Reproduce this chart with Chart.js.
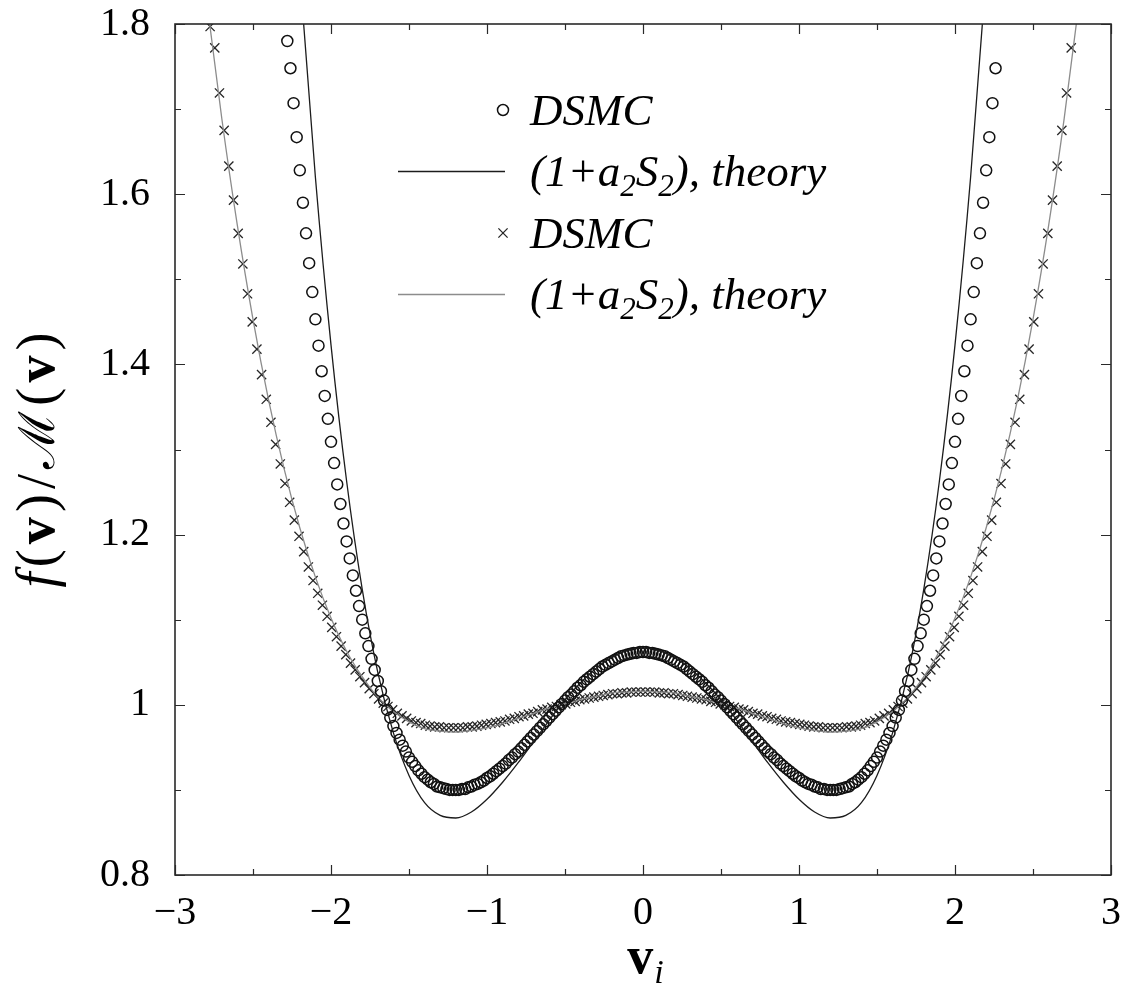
<!DOCTYPE html>
<html>
<head>
<meta charset="utf-8">
<script src="https://cdn.jsdelivr.net/npm/chart.js@4.4.1/dist/chart.umd.min.js"></script>
<style>
  html, body { margin: 0; padding: 0; background: #fff; }
  #wrap { width: 1122px; height: 1001px; }
</style>
</head>
<body>
<div id="wrap"><canvas id="chart" width="1122" height="1001"></canvas></div>
<script>
// DSMC histogram bins (circles: step 0.02, crosses: step 0.03)
const circleFirstV = -2.28
const circleStepV = 0.02
const circleValues = [
  1.780,1.748,1.707,1.667,1.628,1.590,1.554,1.519,1.485,1.453,
  1.422,1.392,1.363,1.336,1.309,1.284,1.259,1.236,1.213,1.192,
  1.172,1.152,1.134,1.116,1.100,1.084,1.069,1.054,1.041,1.028,
  1.016,1.005,0.994,0.985,0.975,0.967,0.959,0.952,0.945,0.938,
  0.933,0.928,0.923,0.919,0.915,0.912,0.909,0.907,0.904,0.903,
  0.902,0.901,0.900,0.900,0.900,0.900,0.901,0.901,0.903,0.904,
  0.906,0.907,0.909,0.911,0.914,0.916,0.919,0.922,0.925,0.928,
  0.931,0.935,0.938,0.942,0.945,0.949,0.953,0.957,0.961,0.965,
  0.969,0.973,0.977,0.981,0.985,0.989,0.993,0.997,1.001,1.005,
  1.009,1.012,1.016,1.020,1.023,1.027,1.030,1.033,1.036,1.039,
  1.042,1.045,1.047,1.049,1.051,1.053,1.055,1.057,1.058,1.059,
  1.060,1.061,1.061,1.062,
  1.062,1.062,1.061,1.061,1.060,1.059,1.058,1.057,1.055,1.053,
  1.051,1.049,1.047,1.045,1.042,1.039,1.036,1.033,1.030,1.027,
  1.023,1.020,1.016,1.012,1.009,1.005,1.001,0.997,0.993,0.989,
  0.985,0.981,0.977,0.973,0.969,0.965,0.961,0.957,0.953,0.949,
  0.945,0.942,0.938,0.935,0.931,0.928,0.925,0.922,0.919,0.916,
  0.914,0.911,0.909,0.907,0.906,0.904,0.903,0.901,0.901,0.900,
  0.900,0.900,0.900,0.901,0.902,0.903,0.904,0.907,0.909,0.912,
  0.915,0.919,0.923,0.928,0.933,0.938,0.945,0.952,0.959,0.967,
  0.975,0.985,0.994,1.005,1.016,1.028,1.041,1.054,1.069,1.084,
  1.100,1.116,1.134,1.152,1.172,1.192,1.213,1.236,1.259,1.284,
  1.309,1.336,1.363,1.392,1.422,1.453,1.485,1.519,1.554,1.590,
  1.628,1.667,1.707,1.748
]

const crossFirstV = -2.775
const crossStepV = 0.03
const crossValues = [
  1.797,1.772,1.719,1.675,1.633,1.593,1.554,1.518,1.483,1.450,
  1.418,1.388,1.359,1.332,1.306,1.283,1.260,1.238,1.217,1.198,
  1.180,1.162,1.146,1.131,1.117,1.104,1.091,1.080,1.069,1.059,
  1.049,1.041,1.033,1.026,1.019,1.013,1.007,1.002,0.998,0.994,
  0.990,0.987,0.984,0.981,0.979,0.978,0.976,0.975,0.974,0.974,
  0.973,0.973,0.973,0.973,0.973,0.974,0.974,0.975,0.976,0.977,
  0.978,0.979,0.980,0.981,0.983,0.984,0.986,0.987,0.989,0.990,
  0.992,0.994,0.995,0.997,0.998,1.000,1.001,1.003,1.004,1.006,
  1.007,1.008,1.009,1.010,1.011,1.012,1.013,1.013,1.014,1.014,
  1.015,1.015,1.015,
  1.015,1.015,1.015,1.014,1.014,1.013,1.013,1.012,1.011,1.010,
  1.009,1.008,1.007,1.006,1.004,1.003,1.001,1.000,0.998,0.997,
  0.995,0.994,0.992,0.990,0.989,0.987,0.986,0.984,0.983,0.981,
  0.980,0.979,0.978,0.977,0.976,0.975,0.974,0.974,0.973,0.973,
  0.973,0.973,0.973,0.974,0.974,0.975,0.976,0.978,0.979,0.981,
  0.984,0.987,0.990,0.994,0.998,1.002,1.007,1.013,1.019,1.026,
  1.033,1.041,1.049,1.059,1.069,1.080,1.091,1.104,1.117,1.131,
  1.146,1.162,1.180,1.198,1.217,1.238,1.260,1.283,1.306,1.332,
  1.359,1.388,1.418,1.450,1.483,1.518,1.554,1.593,1.633,1.675,
  1.719,1.772
]

// theory curves (1+a2 S2)
const theory1V = [
  -2.3,-2.2,-2.1,-2.0,-1.9,-1.8,-1.7,-1.6,-1.5,-1.4,-1.3,-1.2,-1.1,-1.0,-0.9,-0.8,
  -0.7,-0.6,-0.5,-0.4,-0.3,-0.2,-0.1,0,0.1,0.2,0.3,0.4,0.5,0.6,0.7,0.8,0.9,1.0,
  1.1,1.2,1.3,1.4,1.5,1.6,1.7,1.8,1.9,2.0,2.1,2.2,2.3
]
const theory1 = [
  2.145,1.859,1.620,1.423,1.263,1.136,1.038,0.967,0.917,0.885,0.870,0.867,0.874,0.889,0.909,0.932,
  0.957,0.982,1.006,1.026,1.043,1.056,1.064,1.067,1.064,1.056,1.043,1.026,1.006,0.982,0.957,0.932,0.909,0.889,
  0.874,0.867,0.870,0.885,0.917,0.967,1.038,1.136,1.263,1.423,1.620,1.859,2.145
]
const theory2V = [
  -3.0,-2.9,-2.8,-2.7,-2.6,-2.5,-2.4,-2.3,-2.2,-2.1,-2.0,-1.9,-1.8,-1.7,-1.6,-1.5,
  -1.4,-1.3,-1.2,-1.1,-1.0,-0.9,-0.8,-0.7,-0.6,-0.5,-0.4,-0.3,-0.2,-0.1,0,
  0.1,0.2,0.3,0.4,0.5,0.6,0.7,0.8,0.9,1.0,1.1,1.2,1.3,1.4,1.5,
  1.6,1.7,1.8,1.9,2.0,2.1,2.2,2.3,2.4,2.5,2.6,2.7,2.8,2.9,3.0
]
const theory2 = [
  2.177,1.994,1.832,1.689,1.563,1.453,1.358,1.277,1.208,1.150,1.102,1.063,1.033,1.009,0.992,0.980,
  0.972,0.969,0.968,0.970,0.973,0.978,0.984,0.990,0.996,1.001,1.006,1.010,1.014,1.015,1.016,
  1.015,1.014,1.010,1.006,1.001,0.996,0.990,0.984,0.978,0.973,0.970,0.968,0.969,0.972,0.980,
  0.992,1.009,1.033,1.063,1.102,1.150,1.208,1.277,1.358,1.453,1.563,1.689,1.832,1.994,2.177
]

const xRange = [-3, 3]
const yRange = [0.8, 1.8]
const theoryLabelParts = [['(1+a', 0], ['2', 1], ['S', 0], ['2', 1], ['), theory', 0]]

const FONT = "'Liberation Serif', 'Times New Roman', 'DejaVu Serif', serif"

const binPoints = (first, step, values) =>
  values.map((y, i) => ({ x: +(first + i * step).toFixed(3), y }))
const pairPoints = (xs, ys) => xs.map((x, i) => ({ x, y: ys[i] }))

// frame with inward major/minor ticks on all four sides
const frameTicks = {
  id: 'frameTicks',
  afterDatasetsDraw(chart) {
    const { ctx, chartArea: a, scales: { x, y } } = chart
    ctx.save()
    ctx.strokeStyle = '#2a2a2a'
    ctx.lineWidth = 1.2
    ctx.beginPath()
    for (let v = xRange[0]; v <= xRange[1] + 1e-9; v += 0.5) {
      const px = Math.round(x.getPixelForValue(v)) + 0.5
      const len = Math.abs(v - Math.round(v)) < 1e-9 ? 10 : 6
      ctx.moveTo(px, a.bottom); ctx.lineTo(px, a.bottom - len)
      ctx.moveTo(px, a.top); ctx.lineTo(px, a.top + len)
    }
    for (let k = 0; k <= 10; k++) {
      const v = yRange[0] + k * 0.1
      const py = Math.round(y.getPixelForValue(v)) + 0.5
      const len = k % 2 === 0 ? 10 : 6
      ctx.moveTo(a.left, py); ctx.lineTo(a.left + len, py)
      ctx.moveTo(a.right, py); ctx.lineTo(a.right - len, py)
    }
    ctx.stroke()
    ctx.lineWidth = 1.6
    ctx.strokeRect(a.left, a.top, a.right - a.left, a.bottom - a.top)
    ctx.restore()
  }
}

function drawParts(ctx, parts, x, y, size) {
  let cx = x
  parts.forEach(([text, sub]) => {
    ctx.font = `italic ${sub ? Math.round(size * 0.68) : size}px ${FONT}`
    ctx.fillText(text, cx, y + (sub ? size * 0.22 : 0))
    cx += ctx.measureText(text).width
  })
}

// key inside the plot, upper middle
const keyBox = {
  id: 'keyBox',
  afterDraw(chart) {
    const { ctx } = chart
    const ds = chart.data.datasets
    const rows = [110, 171, 233, 294]
    const textX = 530, size = 45
    ctx.save()
    ctx.fillStyle = '#000'
    ctx.textBaseline = 'alphabetic'
    ds.forEach((d, i) => {
      const cy = rows[i]
      if (d.showLine) {
        ctx.strokeStyle = d.borderColor
        ctx.lineWidth = d.borderWidth
        ctx.beginPath(); ctx.moveTo(398, cy + 0.5); ctx.lineTo(505, cy + 0.5); ctx.stroke()
        drawParts(ctx, theoryLabelParts, textX, cy + 15, size)
      } else {
        ctx.strokeStyle = d.pointBorderColor
        ctx.lineWidth = d.pointBorderWidth
        const r = d.pointRadius
        ctx.beginPath()
        if (d.pointStyle === 'circle') {
          ctx.arc(503, cy, r, 0, Math.PI * 2)
        } else {
          const o = r * Math.SQRT1_2
          ctx.moveTo(503 - o, cy - o); ctx.lineTo(503 + o, cy + o)
          ctx.moveTo(503 - o, cy + o); ctx.lineTo(503 + o, cy - o)
        }
        ctx.stroke()
        drawParts(ctx, [[d.label, 0]], textX, cy + 15, size)
      }
    })
    ctx.restore()
  }
}

// axis titles with mixed fonts
const axisTitles = {
  id: 'axisTitles',
  afterDraw(chart) {
    const { ctx } = chart
    const size = 54
    const parts = [
      ['f', `italic ${size}px ${FONT}`],
      ['(', `${size}px ${FONT}`],
      ['v', `bold ${size}px ${FONT}`],
      [')', `${size}px ${FONT}`],
      ['/', `${size}px ${FONT}`],
      ['\u2133', `${size - 4}px 'DejaVu Serif', serif`],
      ['(', `${size}px ${FONT}`],
      ['v', `bold ${size}px ${FONT}`],
      [')', `${size}px ${FONT}`]
    ]
    ctx.save()
    ctx.fillStyle = '#000'
    ctx.textBaseline = 'alphabetic'
    let w = 0
    parts.forEach(([t, f]) => { ctx.font = f; w += ctx.measureText(t).width })
    const target = 255
    const gap = Math.max(0, (target - w) / (parts.length - 1))
    ctx.translate(54, 460)
    ctx.rotate(-Math.PI / 2)
    let cx = -target / 2
    parts.forEach(([t, f]) => {
      ctx.font = f
      ctx.fillText(t, cx, 0)
      cx += ctx.measureText(t).width + gap
    })
    ctx.restore()

    ctx.save()
    ctx.fillStyle = '#000'
    ctx.font = `bold 52px ${FONT}`
    const vw = ctx.measureText('v').width
    ctx.font = `italic 34px ${FONT}`
    const iw = ctx.measureText('i').width
    const sx = 645 - (vw + iw) / 2
    ctx.font = `bold 52px ${FONT}`
    ctx.fillText('v', sx, 973)
    ctx.font = `italic 34px ${FONT}`
    ctx.fillText('i', sx + vw + 1, 983)
    ctx.restore()
  }
}

new Chart(document.getElementById('chart'), {
  type: 'scatter',
  data: {
    datasets: [
      {
        label: 'DSMC',
        data: binPoints(circleFirstV, circleStepV, circleValues),
        showLine: false,
        pointStyle: 'circle',
        pointRadius: 5.5,
        pointBorderWidth: 1.5,
        pointBorderColor: '#111',
        pointBackgroundColor: 'rgba(0,0,0,0)',
        order: 2
      },
      {
        label: '(1+a2S2), theory',
        data: pairPoints(theory1V, theory1),
        showLine: true,
        borderColor: '#1c1c1c',
        borderWidth: 1.3,
        pointRadius: 0,
        cubicInterpolationMode: 'monotone',
        order: 1
      },
      {
        label: 'DSMC',
        data: binPoints(crossFirstV, crossStepV, crossValues),
        showLine: false,
        pointStyle: 'crossRot',
        pointRadius: 6.5,
        pointBorderWidth: 1.3,
        pointBorderColor: '#262626',
        pointBackgroundColor: 'rgba(0,0,0,0)',
        order: 4
      },
      {
        label: '(1+a2S2), theory',
        data: pairPoints(theory2V, theory2),
        showLine: true,
        borderColor: '#8c8c8c',
        borderWidth: 1.3,
        pointRadius: 0,
        cubicInterpolationMode: 'monotone',
        order: 3
      }
    ]
  },
  options: {
    responsive: false,
    animation: false,
    layout: { padding: { top: 24, right: 11, left: 0, bottom: 0 } },
    plugins: { legend: { display: false }, tooltip: { enabled: false } },
    scales: {
      x: {
        type: 'linear',
        min: xRange[0],
        max: xRange[1],
        grid: { display: false, drawTicks: false },
        border: { display: false },
        ticks: {
          stepSize: 1,
          padding: 14,
          color: '#000',
          font: { family: FONT, size: 40 },
          callback: v => (v < 0 ? '\u2212' + Math.abs(v) : String(v))
        },
        afterFit: s => { s.height = 126; s.paddingLeft = 0; s.paddingRight = 0 }
      },
      y: {
        type: 'linear',
        min: yRange[0],
        max: yRange[1],
        grid: { display: false, drawTicks: false },
        border: { display: false },
        ticks: {
          stepSize: 0.2,
          padding: 25,
          color: '#000',
          font: { family: FONT, size: 40 },
          callback: v => (Math.abs(v - 1) < 1e-9 ? '1' : v.toFixed(1))
        },
        afterFit: s => { s.width = 175; s.paddingTop = 0; s.paddingBottom = 0 }
      }
    }
  },
  plugins: [frameTicks, keyBox, axisTitles]
})
</script>
</body>
</html>
